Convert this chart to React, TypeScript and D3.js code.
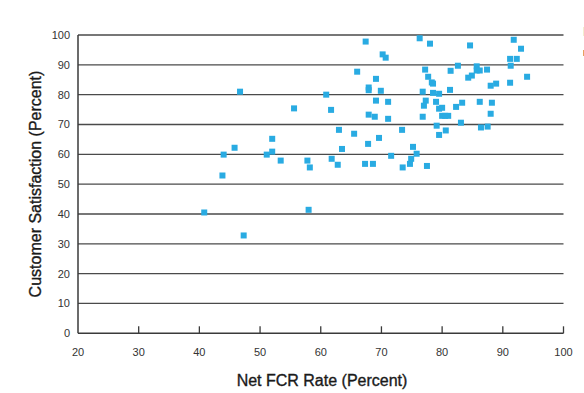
import React, { useEffect, useRef } from 'react';
import * as d3 from 'd3';

// Net FCR rate (x) and customer satisfaction (y)
const fcrRate = [
  46.7, 55.6, 52.0, 45.8, 44.0, 52.0, 51.1, 53.4, 43.8, 57.8, 58.2,
  40.8, 47.3, 58.0,
  67.4, 76.3, 78.0, 84.6, 91.8, 93.0, 70.2, 70.7, 91.2, 92.3, 91.3,
  66.0, 77.2, 81.4, 82.6, 85.7, 85.7, 86.2, 87.4, 69.1, 77.7, 78.3,
  78.5, 84.3, 84.9, 88.0, 88.9, 91.2, 94.0, 67.9, 67.9, 69.9, 76.8,
  78.5, 79.5, 81.3, 60.9, 69.1, 71.1, 77.3, 77.0, 79.0, 83.3, 86.2,
  88.2, 79.5, 80.0, 82.3, 61.7, 67.9, 68.9, 71.1, 76.8, 80.0, 80.5,
  81.0, 88.0, 83.1, 79.1, 80.6, 86.4, 87.5, 79.5, 63.0, 65.5, 73.4,
  69.6, 67.8, 63.5, 75.2, 75.8, 71.6, 61.8, 62.8, 67.3, 68.6, 74.9,
  74.7, 73.5, 77.5,
];
const satisfaction = [
  81.0, 75.4, 65.2, 62.2, 59.9, 60.9, 59.9, 57.9, 52.9, 57.9, 55.6,
  40.5, 32.8, 41.4,
  97.8, 98.9, 97.1, 96.5, 98.4, 95.4, 93.5, 92.4, 92.0, 92.0, 89.7,
  87.7, 88.4, 88.0, 89.7, 89.5, 88.1, 88.1, 88.4, 85.3, 86.0, 84.1,
  83.7, 85.7, 86.4, 83.0, 83.7, 84.0, 86.0, 82.4, 81.5, 81.3, 81.0,
  80.6, 80.3, 81.6, 80.0, 78.0, 77.6, 78.0, 76.3, 77.6, 77.3, 77.6,
  77.3, 75.3, 75.6, 75.9, 74.9, 73.3, 72.6, 71.9, 72.6, 72.9, 72.9,
  72.9, 73.6, 70.6, 69.6, 68.0, 69.0, 69.3, 66.5, 68.2, 66.9, 68.2,
  65.5, 63.5, 61.8, 62.5, 60.2, 59.5, 58.5, 56.5, 56.8, 56.8, 58.5,
  56.8, 55.6, 56.1,
];
const xTicks = [20, 30, 40, 50, 60, 70, 80, 90, 100];
const yTicks = [0, 10, 20, 30, 40, 50, 60, 70, 80, 90, 100];

const W = 584;
const H = 393;
const font = '"Liberation Sans", Arial, sans-serif';

const App = () => {
  const svgRef = useRef<SVGSVGElement>(null);

  useEffect(() => {
    const svg = d3.select(svgRef.current);
    svg.selectAll('*').remove();

    const x = d3.scaleLinear().domain([20, 100]).range([78, 563.5]);
    const y = d3.scaleLinear().domain([0, 100]).range([333.3, 35]);

    // horizontal grid lines
    svg.append('g')
      .selectAll('line')
      .data(yTicks.filter(d => d > 0))
      .enter().append('line')
      .attr('x1', x(20))
      .attr('x2', x(100))
      .attr('y1', d => y(d))
      .attr('y2', d => y(d))
      .attr('stroke', '#4a4a4a')
      .attr('stroke-width', 1.3);

    // axes
    svg.append('line')
      .attr('x1', x(20)).attr('x2', x(20))
      .attr('y1', y(100)).attr('y2', y(0))
      .attr('stroke', '#3a3a3a').attr('stroke-width', 1.5);
    svg.append('line')
      .attr('x1', x(20)).attr('x2', x(100))
      .attr('y1', y(0)).attr('y2', y(0))
      .attr('stroke', '#3a3a3a').attr('stroke-width', 1.5);

    // x ticks point up into the plot
    svg.append('g')
      .selectAll('line')
      .data(xTicks.slice(1))
      .enter().append('line')
      .attr('x1', d => x(d)).attr('x2', d => x(d))
      .attr('y1', y(0)).attr('y2', y(0) - 7)
      .attr('stroke', '#3a3a3a').attr('stroke-width', 1.3);

    svg.append('g')
      .selectAll('text')
      .data(xTicks)
      .enter().append('text')
      .attr('x', d => x(d))
      .attr('y', 356)
      .attr('text-anchor', 'middle')
      .attr('font-family', font)
      .attr('font-size', 11)
      .attr('fill', '#333')
      .text(d => d);

    svg.append('g')
      .selectAll('text')
      .data(yTicks)
      .enter().append('text')
      .attr('x', 70)
      .attr('y', d => y(d) + 4)
      .attr('text-anchor', 'end')
      .attr('font-family', font)
      .attr('font-size', 11)
      .attr('fill', '#333')
      .text(d => d);

    // points
    svg.append('g')
      .selectAll('rect')
      .data(d3.range(fcrRate.length))
      .enter().append('rect')
      .attr('x', i => x(fcrRate[i]) - 3)
      .attr('y', i => y(satisfaction[i]) - 3)
      .attr('width', 6)
      .attr('height', 6)
      .attr('fill', '#29abe2');

    // axis titles
    svg.append('text')
      .attr('x', 322)
      .attr('y', 386)
      .attr('text-anchor', 'middle')
      .attr('font-family', font)
      .attr('font-size', 16)
      .attr('fill', '#1a1a1a')
      .attr('stroke', '#1a1a1a')
      .attr('stroke-width', 0.35)
      .text('Net FCR Rate (Percent)');

    svg.append('text')
      .attr('transform', `translate(41,184) rotate(-90)`)
      .attr('text-anchor', 'middle')
      .attr('font-family', font)
      .attr('font-size', 16)
      .attr('fill', '#1a1a1a')
      .attr('stroke', '#1a1a1a')
      .attr('stroke-width', 0.35)
      .text('Customer Satisfaction (Percent)');

    // cropped legend fragments at the right edge
    svg.append('rect').attr('x', 583).attr('y', 27).attr('width', 1).attr('height', 9).attr('fill', '#f3eed0');
    svg.append('rect').attr('x', 583).attr('y', 50).attr('width', 1).attr('height', 6).attr('fill', '#e8a060');
  }, []);

  return (
    <svg
      ref={svgRef}
      width={W}
      height={H}
      style={{ position: 'absolute', left: 0, top: 0, background: '#fff' }}
    />
  );
};

export default App;
